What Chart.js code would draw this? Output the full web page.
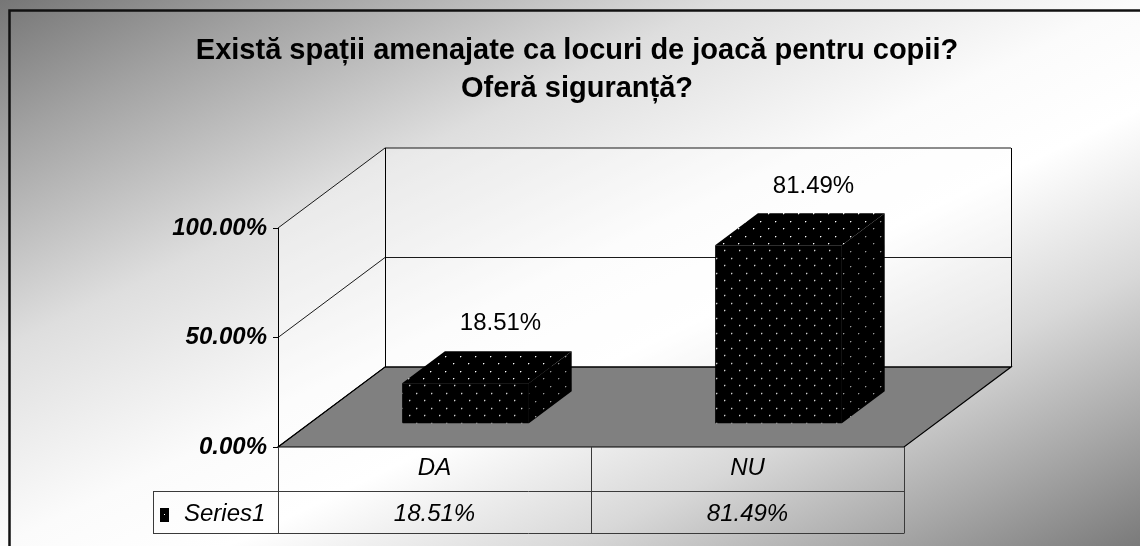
<!DOCTYPE html>
<html>
<head>
<meta charset="utf-8">
<script src="https://cdn.jsdelivr.net/npm/chart.js@4.4.1/dist/chart.umd.min.js"></script>
<style>
html,body{margin:0;padding:0;background:#fff;overflow:hidden}
#wrap{width:1140px;height:546px}
canvas{display:block}
</style>
</head>
<body>
<div id="wrap"><canvas id="c" width="1140" height="546"></canvas></div>
<script>
// ---- data ----
const titleLines = ['Există spații amenajate ca locuri de joacă pentru copii?', 'Oferă siguranță?'];
const categories = ['DA', 'NU'];
const seriesName = 'Series1';
const values = [18.51, 81.49];
const yTickValues = [0, 50, 100];

// ---- style constants ----
const FONT = '"Liberation Sans", Arial, sans-serif';
const DX = 107, DY = 80;      // depth of the 3D floor
const F1 = 0.29, F2 = 0.69;   // front/back depth fraction of bars
const fmt = v => v.toFixed(2) + '%';

function makePattern(dot, dim) {
  const c = document.createElement('canvas');
  c.width = 15; c.height = 15;
  const g = c.getContext('2d');
  g.fillStyle = '#000'; g.fillRect(0, 0, 15, 15);
  [[3, 3], [10, 11]].forEach(([x, y]) => {
    g.fillStyle = dim; g.fillRect(x + 1, y, 1, 1); g.fillRect(x, y + 1, 1, 1);
    g.fillStyle = dot; g.fillRect(x, y, 1, 1);
  });
  return g.createPattern(c, 'repeat');
}
const ctx0 = document.getElementById('c').getContext('2d');
const frontPat = makePattern('#ffffff', '#555555');
const sidePat = makePattern('#9a9a9a', '#333333');

const plugin3d = {
  id: 'threeD',
  beforeDraw(chart) {
    const {ctx, width, height, chartArea: a} = chart;
    const ys = chart.scales.y;
    // background gradient
    ctx.save();
    ctx.scale(width, height);
    const g = ctx.createLinearGradient(0, 0, 1, 1);
    g.addColorStop(0, '#767676');
    g.addColorStop(0.13, '#a2a2a2');
    g.addColorStop(0.32, '#dedede');
    g.addColorStop(0.5, '#fbfbfb');
    g.addColorStop(0.6, '#ffffff');
    g.addColorStop(0.75, '#d8d8d8');
    g.addColorStop(0.88, '#a8a8a8');
    g.addColorStop(1, '#7a7a7a');
    ctx.fillStyle = g;
    ctx.fillRect(0, 0, 1, 1);
    ctx.restore();
    // outer border
    ctx.save();
    ctx.strokeStyle = '#111'; ctx.lineWidth = 2.5;
    ctx.strokeRect(9.5, 10.5, 1300, 700);
    ctx.restore();

    const L = a.left, R = a.right, B = a.bottom;
    const yTop = ys.getPixelForValue(yTickValues[yTickValues.length - 1]);
    ctx.save();
    // walls
    ctx.fillStyle = 'rgba(255,255,255,0.35)';
    ctx.beginPath();
    ctx.moveTo(L, yTop); ctx.lineTo(L + DX, yTop - DY); ctx.lineTo(R + DX, yTop - DY);
    ctx.lineTo(R + DX, B - DY); ctx.lineTo(L + DX, B - DY); ctx.lineTo(L, B);
    ctx.closePath(); ctx.fill();
    // floor
    ctx.fillStyle = '#808080';
    ctx.strokeStyle = '#000'; ctx.lineWidth = 1.2;
    ctx.beginPath();
    ctx.moveTo(L, B); ctx.lineTo(R, B); ctx.lineTo(R + DX, B - DY); ctx.lineTo(L + DX, B - DY);
    ctx.closePath(); ctx.fill(); ctx.stroke();
    // gridlines on walls
    yTickValues.forEach(v => {
      const y = ys.getPixelForValue(v);
      ctx.strokeStyle = v === 0 ? '#000' : '#1a1a1a';
      ctx.lineWidth = 1;
      ctx.beginPath();
      ctx.moveTo(L, y); ctx.lineTo(L + DX, y - DY); ctx.lineTo(R + DX, y - DY);
      ctx.stroke();
    });
    // wall verticals
    ctx.strokeStyle = '#000'; ctx.lineWidth = 1;
    ctx.beginPath();
    ctx.moveTo(L + DX + 0.5, yTop - DY); ctx.lineTo(L + DX + 0.5, B - DY);
    ctx.moveTo(R + DX + 0.5, yTop - DY); ctx.lineTo(R + DX + 0.5, B - DY);
    ctx.stroke();
    ctx.restore();
  },
  beforeDatasetsDraw(chart) {
    chart.ctx.save();
    chart.ctx.translate(F1 * DX, -F1 * DY);
  },
  afterDatasetsDraw(chart) {
    const ctx = chart.ctx;
    ctx.restore();
    const meta = chart.getDatasetMeta(0);
    const fx = F1 * DX, fy = F1 * DY, bx = F2 * DX, by = F2 * DY;
    meta.data.forEach((bar, i) => {
      const p = bar.getProps(['x', 'y', 'base', 'width'], true);
      const xl = p.x - p.width / 2, xr = p.x + p.width / 2;
      ctx.save();
      // top face
      ctx.fillStyle = frontPat;
      ctx.beginPath();
      ctx.moveTo(xl + fx, p.y - fy); ctx.lineTo(xr + fx, p.y - fy);
      ctx.lineTo(xr + bx, p.y - by); ctx.lineTo(xl + bx, p.y - by);
      ctx.closePath(); ctx.fill();
      // side face
      ctx.fillStyle = sidePat;
      ctx.beginPath();
      ctx.moveTo(xr + fx, p.y - fy); ctx.lineTo(xr + bx, p.y - by);
      ctx.lineTo(xr + bx, p.base - by); ctx.lineTo(xr + fx, p.base - fy);
      ctx.closePath(); ctx.fill();
      // data label
      ctx.fillStyle = '#000';
      ctx.font = '24px ' + FONT;
      ctx.textAlign = 'center';
      ctx.textBaseline = 'alphabetic';
      ctx.fillText(fmt(values[i]), p.x + 66, p.y - 76);
      ctx.restore();
    });
  },
  afterDraw(chart) {
    const ctx = chart.ctx;
    const a = chart.chartArea;
    const xs = chart.scales.x;
    const top = a.bottom, r1 = top + 44, r2 = r1 + 42;
    const legendLeft = 153;
    const centers = categories.map((c, i) => xs.getPixelForValue(i));
    const bounds = [a.left];
    for (let i = 0; i < centers.length - 1; i++) bounds.push((centers[i] + centers[i + 1]) / 2);
    bounds.push(a.right);
    ctx.save();
    ctx.strokeStyle = '#3a3a3a'; ctx.lineWidth = 1;
    ctx.beginPath();
    ctx.moveTo(legendLeft, r1 + 0.5); ctx.lineTo(a.right, r1 + 0.5);
    ctx.moveTo(legendLeft, r2 + 0.5); ctx.lineTo(a.right, r2 + 0.5);
    ctx.moveTo(legendLeft + 0.5, r1); ctx.lineTo(legendLeft + 0.5, r2);
    bounds.forEach(b => { const x = Math.round(b) + 0.5; ctx.moveTo(x, top); ctx.lineTo(x, r2 + 0.5); });
    ctx.stroke();
    ctx.fillStyle = '#000';
    ctx.font = 'italic 24px ' + FONT;
    ctx.textAlign = 'center';
    ctx.textBaseline = 'alphabetic';
    categories.forEach((c, i) => ctx.fillText(c, centers[i], top + 28));
    values.forEach((v, i) => ctx.fillText(fmt(v), centers[i], r1 + 30));
    // legend key
    ctx.fillStyle = '#000';
    ctx.fillRect(160, 508, 9, 14);
    ctx.fillStyle = '#fff';
    ctx.fillRect(164, 514, 1, 1);
    ctx.fillStyle = '#000';
    ctx.textAlign = 'left';
    ctx.fillText(seriesName, 184, r1 + 30);
    ctx.restore();
  }
};

new Chart(ctx0, {
  type: 'bar',
  data: {
    labels: categories,
    datasets: [{
      label: seriesName,
      data: values,
      backgroundColor: frontPat,
      borderWidth: 0,
      categoryPercentage: 1,
      barPercentage: 0.405,
      clip: false
    }]
  },
  options: {
    responsive: false,
    animation: false,
    events: [],
    layout: { padding: { left: 14, right: 0, top: 0, bottom: 99 } },
    plugins: {
      legend: { display: false },
      tooltip: { enabled: false },
      title: {
        display: true,
        text: titleLines,
        color: '#000',
        font: { family: FONT, size: 29, weight: 'bold', lineHeight: 38 / 29 },
        padding: { top: 32, bottom: 120 }
      }
    },
    scales: {
      x: { display: false },
      y: {
        min: 0, max: 100,
        afterBuildTicks(s) { s.ticks = yTickValues.map(v => ({ value: v })); },
        afterFit(s) { s.width = 264; },
        grid: { drawOnChartArea: false, drawTicks: true, tickLength: 5, color: '#000' },
        border: { display: true, color: '#000', width: 1 },
        ticks: {
          padding: 6,
          color: '#000',
          font: { family: FONT, size: 24, weight: 'bold', style: 'italic' },
          callback: v => fmt(v)
        }
      },
      y2: {
        position: 'right',
        display: true,
        afterFit(s) { s.width = 236; },
        grid: { display: false },
        border: { display: false },
        ticks: { display: false }
      }
    }
  },
  plugins: [plugin3d]
});
</script>
</body>
</html>
